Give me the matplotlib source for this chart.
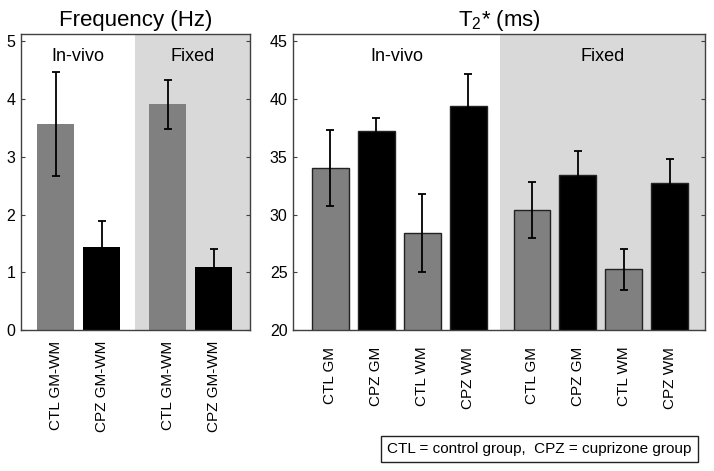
import numpy as np
import matplotlib
matplotlib.use("Agg")
import matplotlib.pyplot as plt
import matplotlib.transforms as mtransforms

plt.rcParams['font.family'] = ['Liberation Sans', 'DejaVu Sans']
plt.rcParams['mathtext.fontset'] = 'custom'
plt.rcParams['mathtext.rm'] = 'Liberation Sans'
plt.rcParams['mathtext.default'] = 'regular'

# =====================================================
# DADOS
# =====================================================
freq_labels = ['CTL GM-WM', 'CPZ GM-WM', 'CTL GM-WM', 'CPZ GM-WM']
freq_vals = [3.57, 1.44, 3.91, 1.10]
freq_err = [0.90, 0.44, 0.43, 0.31]
freq_groups = [0, 0, 1, 1]

t2_labels = ['CTL GM', 'CPZ GM', 'CTL WM', 'CPZ WM',
             'CTL GM', 'CPZ GM', 'CTL WM', 'CPZ WM']
t2_vals = [34.0, 37.2, 28.4, 39.4, 30.4, 33.4, 25.25, 32.7]
t2_err = [3.3, 1.2, 3.4, 2.8, 2.4, 2.15, 1.8, 2.15]
t2_groups = [0, 0, 0, 0, 1, 1, 1, 1]

grupos = ['In-vivo', 'Fixed']
legenda = 'CTL = control group,  CPZ = cuprizone group'

CINZA = '#808080'
PRETO = '#000000'
SOMBRA = '#d9d9d9'
EIXO = '#404040'


def cores(labels):
    return [CINZA if l.startswith('CTL') else PRETO for l in labels]


def painel(ax, labels, vals, err, groups, gap, xlim, ylim, yticks,
           shade_start, edge, pad, title):
    x = np.arange(len(vals)) + 1 + np.array(groups) * gap
    ax.axvspan(shade_start, xlim[1], color=SOMBRA, lw=0, zorder=0)
    ax.bar(x, vals, width=0.8, color=cores(labels), edgecolor=edge,
           linewidth=1.0, zorder=2)
    # barra de erro preta: a metade de baixo some nas barras pretas
    ax.errorbar(x, vals, yerr=err, fmt='none', ecolor='#000000',
                elinewidth=1.3, capsize=3, capthick=1.3, zorder=3)
    ax.set_xlim(*xlim)
    ax.set_ylim(*ylim)
    ax.set_yticks(yticks)
    ax.set_xticks(x)
    ax.set_xticklabels(labels, rotation=90, fontsize=11)
    ax.tick_params(axis='x', length=0, pad=pad)
    ax.tick_params(axis='y', direction='in', length=3, right=True,
                   labelsize=11.5, color=EIXO, pad=4)
    for s in ax.spines.values():
        s.set_color(EIXO)
        s.set_linewidth(1.0)
        s.set_zorder(5)
    trans = mtransforms.blended_transform_factory(ax.transData, ax.transAxes)
    ax.text((xlim[0] + shade_start) / 2, 0.925, grupos[0], transform=trans,
            ha='center', va='center', fontsize=13)
    ax.text((shade_start + xlim[1]) / 2, 0.925, grupos[1], transform=trans,
            ha='center', va='center', fontsize=13)
    ax.set_title(title, fontsize=16, pad=6)


# =====================================================
# FIGURA
# =====================================================
fig = plt.figure(figsize=(7.14, 4.71), dpi=100)
ax1 = fig.add_axes([0.0294, 0.2994, 0.3207, 0.6285])
ax2 = fig.add_axes([0.4104, 0.2994, 0.5770, 0.6285])

painel(ax1, freq_labels, freq_vals, freq_err, freq_groups, 0.43,
       (0.25, 5.21), (0, 5.13), range(0, 6), 2.73, 'none', 8,
       'Frequency (Hz)')
painel(ax2, t2_labels, t2_vals, t2_err, t2_groups, 0.39,
       (0.185, 9.16), (20, 45.65), range(20, 46, 5), 4.70, '#222222', 12,
       'T$_2$* (ms)')

fig.text(0.969, 0.0467, legenda, ha='right', va='center', fontsize=11,
         bbox=dict(boxstyle='square,pad=0.42', fc='white', ec='#222222',
                   lw=1.0))

fig.savefig('out.png', dpi=100)
